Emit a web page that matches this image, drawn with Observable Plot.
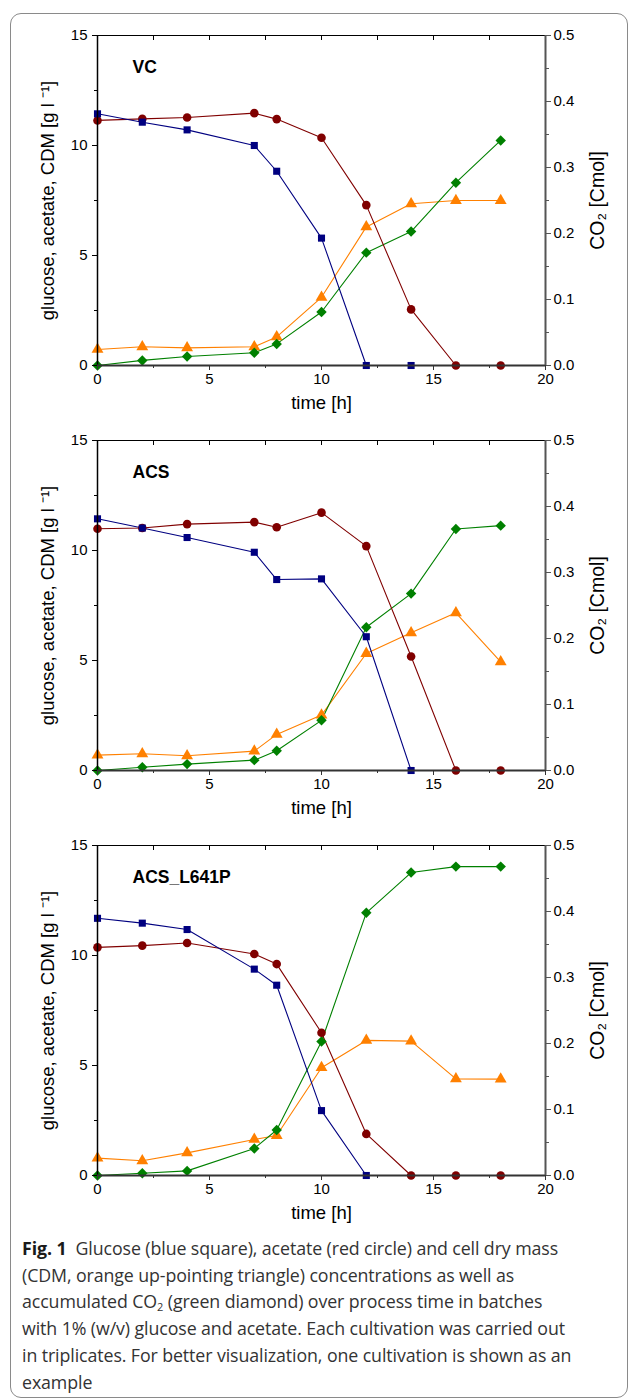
<!DOCTYPE html>
<html>
<head>
<meta charset="utf-8">
<script src="https://cdn.jsdelivr.net/npm/d3@7"></script>
<script src="https://cdn.jsdelivr.net/npm/@observablehq/plot@0.6"></script>
<style>
  html, body { margin: 0; padding: 0; background: #fff; }
  #fig { position: relative; width: 629px; height: 1400px; overflow: hidden; }
  #box { position: absolute; left: 10px; top: 13px; width: 618px; height: 1385px; box-sizing: border-box;
         border: 1.5px solid #8a8a8a; border-radius: 11px; }
  .panel { position: absolute; left: 0; }
  #caption { position: absolute; left: 22px; top: 1235px; font-family: "Open Sans", "Noto Sans", sans-serif;
             font-size: 17.8px; line-height: 26.7px; color: #333; white-space: nowrap; letter-spacing: -0.1px; }
  #caption b { font-weight: 700; color: #1a1a1a; }
  #caption sub { font-size: 11px; vertical-align: -3px; line-height: 0; }
</style>
</head>
<body>
<div id="fig">
  <div id="box"></div>
  <div id="p1" class="panel" style="top:0px"></div>
  <div id="p2" class="panel" style="top:405px"></div>
  <div id="p3" class="panel" style="top:810px"></div>
  <div id="caption">
    <b>Fig. 1</b>&nbsp;&nbsp;Glucose (blue square), acetate (red circle) and cell dry mass<br>
    (CDM, orange up-pointing triangle) concentrations as well as<br>
    accumulated CO<sub>2</sub> (green diamond) over process time in batches<br>
    with 1% (w/v) glucose and acetate. Each cultivation was carried out<br>
    in triplicates. For better visualization, one cultivation is shown as an<br>
    example
  </div>
</div>
<script>
// ---- data (time in h) ----
const hours = [0, 2, 4, 7, 8, 10, 12, 14, 16, 18];

const vcGlucose  = [11.44, 11.06, 10.71, 10.0, 8.83, 5.79, 0, 0];
const vcAcetate  = [11.14, 11.21, 11.27, 11.47, 11.2, 10.35, 7.29, 2.55, 0, 0];
const vcCDM      = [0.73, 0.85, 0.8, 0.85, 1.3, 3.1, 6.3, 7.35, 7.5, 7.5];
const vcCO2      = [0, 0.0077, 0.0137, 0.0193, 0.0327, 0.081, 0.171, 0.203, 0.277, 0.341];

const acsGlucose = [11.44, 11.02, 10.59, 9.92, 8.68, 8.71, 6.08, 0];
const acsAcetate = [10.99, 11.02, 11.2, 11.29, 11.06, 11.72, 10.2, 5.18, 0, 0];
const acsCDM     = [0.70, 0.76, 0.67, 0.88, 1.64, 2.52, 5.32, 6.26, 7.17, 4.94];
const acsCO2     = [0, 0.005, 0.0097, 0.0157, 0.030, 0.076, 0.217, 0.268, 0.366, 0.371];

const mutGlucose = [11.69, 11.47, 11.18, 9.38, 8.65, 2.95, 0];
const mutAcetate = [10.37, 10.45, 10.57, 10.07, 9.61, 6.49, 1.89, 0, 0, 0];
const mutCDM     = [0.79, 0.67, 1.03, 1.64, 1.82, 4.9, 6.14, 6.11, 4.39, 4.38];
const mutCO2     = [0, 0.0035, 0.007, 0.041, 0.069, 0.203, 0.398, 0.459, 0.468, 0.468];

const panelTitles = ["VC", "ACS", "ACS_L641P"];

const xTicks = [0, 5, 10, 15, 20];
const xMinor = [2.5, 7.5, 12.5, 17.5];
const xTop = [2.5, 5, 7.5, 10, 12.5, 15, 17.5];
const yTicks = [0, 5, 10, 15];
const yMinor = [2.5, 7.5, 12.5];
const co2Ticks = [0, 0.1, 0.2, 0.3, 0.4, 0.5];
const co2Minor = [0.05, 0.15, 0.25, 0.35, 0.45];

const yLabel = "glucose, acetate, CDM [g l \u207B\u00B9]";
const y2Label = "CO\u2082 [Cmol]";
const xLabel = "time [h]";

const colors = {glucose: "#000080", acetate: "#800000", cdm: "#ff8000", co2: "#008000"};

// left y domain 0..15 corresponds to CO2 0..0.5
const co2Factor = 15 / 0.5;

function series(vals) { return vals.map((v, i) => ({t: hours[i], v})); }

function panel(title, glucose, acetate, cdm, co2) {
  const G = series(glucose), A = series(acetate), C = series(cdm), D = series(co2);
  const co2y = d => d.v * co2Factor;
  return Plot.plot({
    width: 629, height: 405,
    marginTop: 35, marginBottom: 40, marginLeft: 97, marginRight: 84,
    x: {domain: [0, 20], axis: null},
    y: {domain: [0, 15], axis: null},
    style: {fontFamily: "'Liberation Sans', Arial, sans-serif", fontSize: "15px", color: "#000", background: "transparent", overflow: "visible"},
    marks: [
      // series lines
      Plot.line(C, {x: "t", y: "v", stroke: colors.cdm, strokeWidth: 1.1}),
      Plot.line(D, {x: "t", y: co2y, stroke: colors.co2, strokeWidth: 1.1}),
      Plot.line(A, {x: "t", y: "v", stroke: colors.acetate, strokeWidth: 1.1}),
      Plot.line(G, {x: "t", y: "v", stroke: colors.glucose, strokeWidth: 1.1}),
      // markers
      Plot.dot(C, {x: "t", y: "v", symbol: "triangle", r: 4.4, fill: colors.cdm, stroke: null}),
      Plot.dot(D, {x: "t", y: co2y, symbol: "diamond2", r: 4.7, fill: colors.co2, stroke: null}),
      Plot.dot(A, {x: "t", y: "v", symbol: "circle", r: 4.3, fill: colors.acetate, stroke: null}),
      Plot.dot(G, {x: "t", y: "v", symbol: "square", r: 4.0, fill: colors.glucose, stroke: null}),
      // frame lines
      Plot.ruleY([15], {stroke: "#000", strokeWidth: 1}),
      Plot.ruleX([0], {stroke: "#000", strokeWidth: 1.5}),
      Plot.ruleY([0], {stroke: "#333", strokeWidth: 2}),
      Plot.ruleX([20], {stroke: "#555", strokeWidth: 2}),
      // bottom axis
      Plot.axisX({anchor: "bottom", ticks: xTicks, tickSize: 5, tickPadding: 3, stroke: "#333", label: null, fontSize: 15}),
      Plot.axisX({anchor: "bottom", ticks: xMinor, tickSize: 3, stroke: "#333", tickFormat: () => "", label: null}),
      // top axis (inward ticks)
      Plot.axisX({anchor: "top", ticks: xTop, tickSize: 4, dy: 4, stroke: "#000", tickFormat: () => "", label: null}),
      // left axis
      Plot.axisY({anchor: "left", ticks: yTicks, tickSize: 5, tickPadding: 5, stroke: "#000", label: null, fontSize: 15}),
      Plot.axisY({anchor: "left", ticks: yMinor, tickSize: 3, stroke: "#000", tickFormat: () => "", label: null}),
      // right axis (CO2)
      Plot.axisY({anchor: "right", ticks: co2Ticks.map(v => v * co2Factor), tickSize: 5, tickPadding: 3, stroke: "#555",
                  tickFormat: v => (v / co2Factor).toFixed(1), label: null, fontSize: 15}),
      Plot.axisY({anchor: "right", ticks: co2Minor.map(v => v * co2Factor), tickSize: 3, stroke: "#555", tickFormat: () => "", label: null}),
      // labels
      Plot.text([xLabel], {frameAnchor: "bottom", dy: 43, textAnchor: "middle", fontSize: 18.5, fill: "#000"}),
      Plot.text([yLabel], {frameAnchor: "left", dx: -49, rotate: -90, textAnchor: "middle", fontSize: 18.5, fill: "#000"}),
      Plot.text([y2Label], {frameAnchor: "right", dx: 52, rotate: -90, textAnchor: "middle", fontSize: 19.5, fill: "#000"}),
      Plot.text([title], {frameAnchor: "top-left", dx: 35, dy: 25, textAnchor: "start", fontSize: 17.5, fontWeight: "bold", fill: "#000"})
    ]
  });
}

document.getElementById("p1").append(panel(panelTitles[0], vcGlucose, vcAcetate, vcCDM, vcCO2));
document.getElementById("p2").append(panel(panelTitles[1], acsGlucose, acsAcetate, acsCDM, acsCO2));
document.getElementById("p3").append(panel(panelTitles[2], mutGlucose, mutAcetate, mutCDM, mutCO2));
</script>
</body>
</html>
